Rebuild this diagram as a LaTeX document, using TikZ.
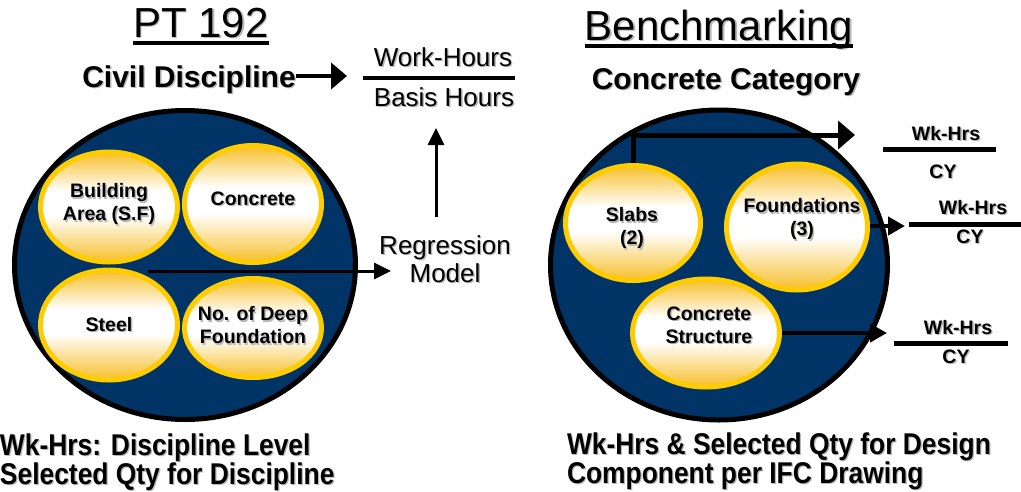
\documentclass[tikz,border=0pt]{standalone}
\usepackage{fontspec}
\setmainfont{Liberation Sans}
\usepackage{graphicx}
\usetikzlibrary{shapes.geometric,arrows.meta}

\definecolor{navy}{RGB}{0,51,102}
\definecolor{gold}{RGB}{255,204,0}
\definecolor{goldfill}{RGB}{246,190,40}

% gold at top and bottom, white band a little below the middle
\pgfdeclareverticalshading{goldband}{100bp}{%
  color(0bp)=(goldfill); color(25bp)=(goldfill);
  color(46bp)=(white); color(57bp)=(white);
  color(75bp)=(goldfill); color(100bp)=(goldfill)}

% text with a soft grey drop shadow
\newcommand\shd[1]{\makebox[0pt][l]{\hspace*{1.4pt}\raisebox{-1.4pt}{\textcolor{black!28}{#1}}}#1}
\newcommand\fsz[2]{\fontsize{#1}{#2}\selectfont}

\begin{document}
\begin{tikzpicture}[x=1pt,y=-1pt,
  txt/.style={inner sep=0pt, outer sep=0pt, text=black},
  title/.style={txt, anchor=base, font=\fsz{42}{46}},
  head/.style={txt, anchor=base, font=\fsz{30}{34}\bfseries},
  plain/.style={txt, anchor=base, font=\fsz{26}{28}},
  lbl/.style={txt, align=center, font=\fsz{19.5}{23}\bfseries},
  wk/.style={txt, anchor=base, font=\fsz{19.5}{22}\bfseries},
  foot/.style={txt, anchor=base west, font=\fsz{30}{30}\bfseries},
  disc/.style={ellipse, draw=black, line width=5pt, fill=navy, inner sep=0pt},
  item/.style={ellipse, draw=gold, line width=5pt, inner sep=0pt, shading=goldband},
  uline/.style={line width=3.5pt},
  frac/.style={line width=4.5pt},
  bigarrow/.style={line width=5pt, -{Triangle[length=17pt,width=28pt]}},
  civarrow/.style={line width=4.5pt, -{Triangle[length=16pt,width=26pt]}},
  outarrow/.style={line width=4.5pt, -{Triangle[length=17pt,width=18pt]}},
  medarrow/.style={line width=3pt, -{Triangle[length=17pt,width=16pt]}}]

\useasboundingbox (0,0) rectangle (1021,491);

% ---------------- left half: PT 192 ----------------
\node[title] (pt) at (201,37) {\shd{PT 192}};
\draw[uline] ([yshift=-6pt]pt.base west) -- ([yshift=-6pt]pt.base east);

\node[head] (civil) at (189,87) {\shd{Civil Discipline}};

\node[plain] (wh) at (443,66) {\shd{Work-Hours}};
\node[plain] (bh) at (444,106) {\shd{Basis Hours}};
\coordinate (fl1) at (363,78);
\coordinate (fr1) at (515,78);
\draw[frac] (fl1) -- (fr1);

\coordinate (civtip) at (347,76);
\draw[civarrow] (civil.east |- civtip) -- (civtip);

\node[disc, minimum width=341pt, minimum height=309pt] (ldisc) at (185,265) {};

\node[item, minimum width=137pt, minimum height=110pt] (bldg)  at (109,207) {};
\node[item, minimum width=137pt, minimum height=117pt] (conc)  at (253,204) {};
\node[item, minimum width=137pt, minimum height=110pt] (steel) at (109,325) {};
\node[item, minimum width=137pt, minimum height=99pt]  (deep)  at (253,328) {};

\node[lbl] (tbldg)  at (109,205) {\shd{Building}\\\shd{Area (S.F)}};
\node[lbl] (tconc)  at (253,199) {\shd{Concrete}};
\node[lbl] (tsteel) at (109,325) {\shd{Steel}};
\node[lbl] (tdeep)  at (253,326) {\shd{No. of Deep}\\\shd{Foundation}};

\node[txt, align=center, font=\fsz{26}{28}] (reg) at (445,260) {\shd{Regression}\\\shd{Model}};

\coordinate (lstart) at (148,271);
\coordinate (ltip) at (391,271);
\draw[medarrow] (lstart) -- (ltip);

\coordinate (vtip) at (436,128);
\draw[medarrow, shorten <=19pt] (reg.north -| vtip) -- (vtip);

\node[foot] (bl1) at (0,455) {\scalebox{0.88}[1]{\shd{Wk-Hrs: Discipline Level}}};
\node[foot] (bl2) at (0,484) {\scalebox{0.88}[1]{\shd{Selected Qty for Discipline}}};

% ---------------- right half: Benchmarking ----------------
\node[title] (bench) at (719,40) {\shd{Benchmarking}};
\draw[uline] ([yshift=-6pt]bench.base west) -- ([yshift=-6pt]bench.base east);

\node[head] (ccat) at (726,89.5) {\shd{Concrete Category}};

\node[disc, minimum width=337pt, minimum height=310pt] (rdisc) at (719,265) {};

\node[item, minimum width=135pt, minimum height=115pt] (slabs)   at (633,223) {};
\node[item, minimum width=141pt, minimum height=126pt] (found)   at (797,227) {};
\node[item, minimum width=147pt, minimum height=108pt] (cstruct) at (706,333) {};

\node[lbl] (tslabs)   at (632,229) {\shd{Slabs}\\\shd{(2)}};
\node[lbl] (tfound)   at (802,220) {\shd{Foundations}\\\shd{(3)}};
\node[lbl] (tcstruct) at (709,326) {\shd{Concrete}\\\shd{Structure}};

\coordinate (t1) at (855,135);
\draw[bigarrow] (slabs.north) |- (t1);
\coordinate (t2) at (905,226);
\draw[outarrow] (found.east |- t2) -- (t2);
\coordinate (t3) at (887,333);
\draw[outarrow] (cstruct.east) -- (t3);

% Wk-Hrs / CY ratios
\node[wk] (w1) at (946,140) {\shd{Wk-Hrs}};
\node[wk] (c1) at (943,178) {\shd{CY}};
\coordinate (a1) at (883,149); \coordinate (b1) at (996,149);
\draw[frac, line width=5pt] (a1) -- (b1);

\node[wk] (w2) at (973,214) {\shd{Wk-Hrs}};
\node[wk] (c2) at (970,243) {\shd{CY}};
\coordinate (a2) at (909,224); \coordinate (b2) at (1021,224);
\draw[frac, line width=5pt] (a2) -- (b2);

\node[wk] (w3) at (958,334) {\shd{Wk-Hrs}};
\node[wk] (c3) at (956,363) {\shd{CY}};
\coordinate (a3) at (894,343); \coordinate (b3) at (1008,343);
\draw[frac, line width=5pt] (a3) -- (b3);

\node[foot] (br1) at (567,454) {\scalebox{0.88}[1]{\shd{Wk-Hrs \& Selected Qty for Design}}};
\node[foot] (br2) at (567,483) {\scalebox{0.88}[1]{\shd{Component per IFC Drawing}}};

\end{tikzpicture}
\end{document}
